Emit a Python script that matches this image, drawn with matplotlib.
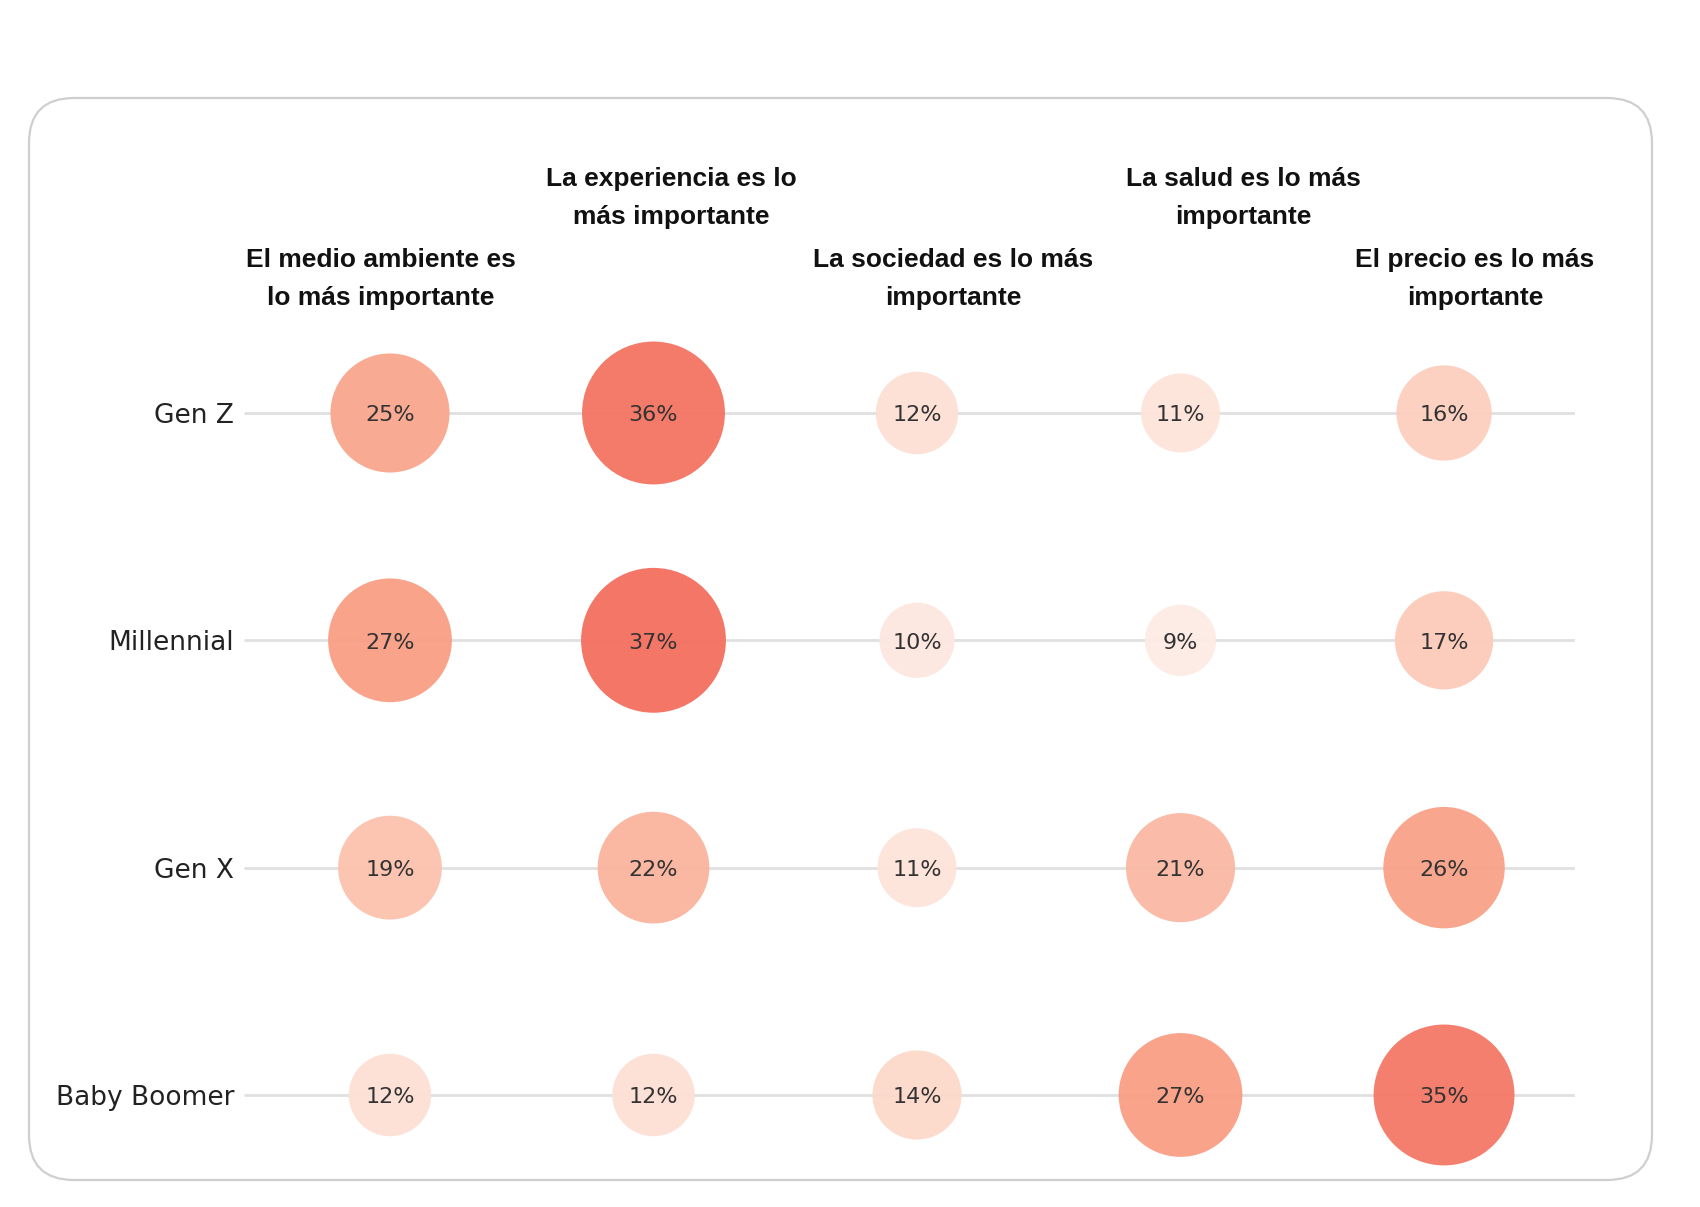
import numpy as np
import matplotlib
matplotlib.use("Agg")
import matplotlib.pyplot as plt
from matplotlib.patches import FancyBboxPatch
from matplotlib.colors import LinearSegmentedColormap, Normalize

# Data
generations = ["Gen Z", "Millennial", "Gen X", "Baby Boomer"]
categories = [
    "El medio ambiente es\nlo más importante",
    "La experiencia es lo\nmás importante",
    "La sociedad es lo más\nimportante",
    "La salud es lo más\nimportante",
    "El precio es lo más\nimportante",
]
gen_z = [25, 36, 12, 11, 16]
millennial = [27, 37, 10, 9, 17]
gen_x = [19, 22, 11, 21, 26]
baby_boomer = [12, 12, 14, 27, 35]
values = np.array([gen_z, millennial, gen_x, baby_boomer])

W, H = 1700, 1207
fig = plt.figure(figsize=(W / 100, H / 100), dpi=100)
fig.patch.set_facecolor("white")

# rounded frame
frame = FancyBboxPatch((0.29, 0.27), 16.23, 10.82,
                       boxstyle="round,pad=0,rounding_size=0.45",
                       transform=fig.dpi_scale_trans, facecolor="white",
                       edgecolor="#cfcfcf", linewidth=1.6, zorder=0)
fig.add_artist(frame)

# axes area in pixels: x 244..1575, y 300..1180 (from top)
ax = fig.add_axes([244 / W, 1 - 1180 / H, (1575 - 244) / W, 880 / H])
ax.set_facecolor("none")
ax.set_xlim(-0.554, 4.497)
ax.set_ylim(3.374, -0.497)
for sp in ax.spines.values():
    sp.set_visible(False)

rows = np.arange(len(generations))
cols = np.arange(len(categories))
ax.hlines(rows, -0.554, 4.497, color="#e0e0e0", linewidth=2.0, zorder=1)

vmin, vmax = 9, 37
stops = [(9, "#fdebe5"), (12, "#fde0d5"), (19, "#fbc2ae"),
         (25, "#f9a68d"), (27, "#f89e84"), (37, "#f46f5e")]
cmap = LinearSegmentedColormap.from_list(
    "reds", [((v - vmin) / (vmax - vmin), c) for v, c in stops])
norm = Normalize(vmin=vmin, vmax=vmax)

xx, yy = np.meshgrid(cols, rows)
ax.scatter(xx.ravel(), yy.ravel(), s=values.ravel() * 294,
           c=cmap(norm(values.ravel())), alpha=0.95, edgecolors="none",
           zorder=2)

for r in rows:
    for c in cols:
        ax.text(c, r + 0.01, f"{values[r, c]}%", ha="center", va="center",
                fontsize=16, color="#333333", family="DejaVu Sans", zorder=3)

ax.set_xticks([])
ax.set_yticks(rows)
ax.set_yticklabels(generations, fontsize=19, color="#222222",
                   family="DejaVu Sans")
ax.tick_params(axis="y", length=0, pad=7)

# column headers (staggered)
header_pos = [(381, 279), (671, 198), (953, 279), (1243, 198), (1475, 279)]
for label, (px, py) in zip(categories, header_pos):
    fig.text(px / W, 1 - py / H, label, ha="center", va="center",
             fontsize=19, fontweight="bold", family="Liberation Sans",
             linespacing=1.7, color="#111111")

fig.savefig("out.png", dpi=100, facecolor="white")
